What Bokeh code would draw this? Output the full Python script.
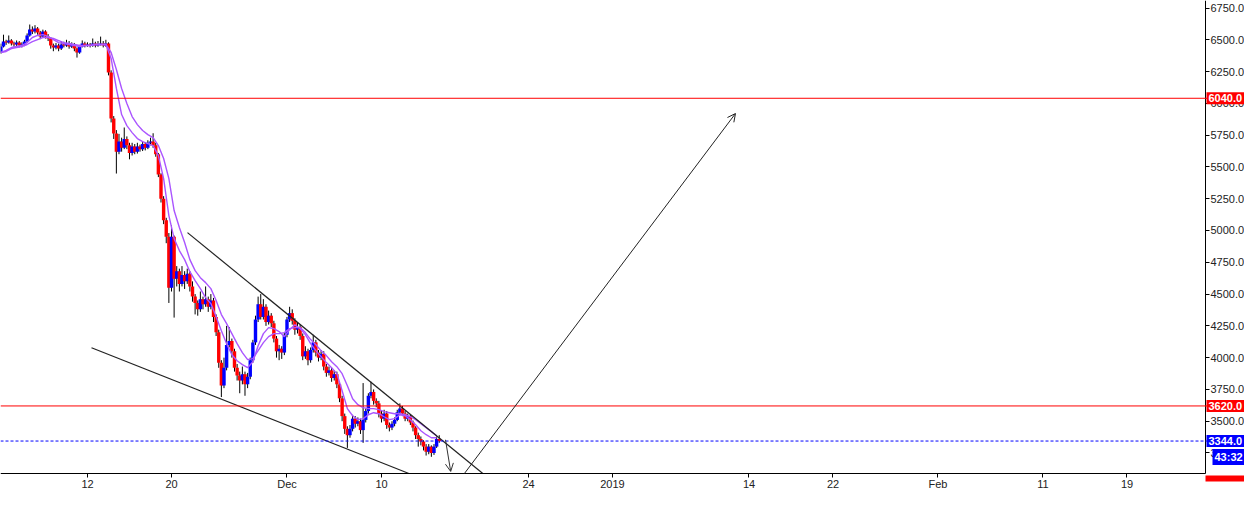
import pandas as pd
from bokeh.plotting import figure
from bokeh.models import (Range1d, FixedTicker, NumeralTickFormatter, Span, Label,
                          Arrow, OpenHead, ColumnDataSource, LinearAxis, DatetimeAxis)
from bokeh.embed import file_html
from bokeh.resources import INLINE

# ---------------- data ----------------
start_time = "2018-11-03 18:00"   # first 6h candle
first_open = 6400

close = [
    6447, 6486, 6478, 6494, 6471, 6463, 6478, 6455, 6463, 6486,
    6534, 6581, 6565, 6589, 6557, 6526, 6565, 6526, 6510, 6455,
    6439, 6455, 6431, 6463, 6455, 6471, 6447, 6463, 6431, 6400,
    6447, 6471, 6455, 6463, 6455, 6471, 6455, 6463, 6471, 6455,
    6471, 6242, 5880, 5762, 5620, 5700, 5650, 5720, 5670, 5610,
    5660, 5620, 5660, 5640, 5680, 5650, 5690, 5700, 5670, 5600,
    5440, 5250, 5080, 4950, 4550, 4950, 4620, 4680, 4580, 4650,
    4600, 4660, 4560, 4480, 4430, 4380, 4460, 4420, 4460, 4400,
    4450, 4320, 4200, 3960, 3780, 3920, 4100, 4130, 4050, 3920,
    3860, 3820, 3870, 3790, 3850, 3980, 4120, 4300, 4420, 4320,
    4400, 4280, 4330, 4270, 4150, 4050, 4070, 4040, 4180, 4300,
    4350, 4290, 4220, 4240, 4170, 4010, 4050, 3980, 4060, 4120,
    4040, 4000, 4030, 3930, 3880, 3900, 3840, 3870, 3790, 3680,
    3540, 3440, 3390, 3440, 3520, 3480, 3500, 3430, 3510, 3580,
    3700, 3730, 3660, 3640, 3560, 3520, 3560, 3470, 3450, 3480,
    3510, 3570, 3600, 3560, 3520, 3540, 3490, 3450, 3390, 3360,
    3340, 3300, 3260, 3300, 3250, 3300, 3360, 3344,
]
high = [
    6470, 6540, 6500, 6534, 6505, 6485, 6495, 6490, 6480, 6500,
    6550, 6620, 6605, 6615, 6600, 6570, 6580, 6575, 6545, 6520,
    6470, 6475, 6470, 6490, 6485, 6500, 6490, 6480, 6475, 6440,
    6460, 6495, 6485, 6480, 6475, 6510, 6485, 6490, 6525, 6490,
    6500, 6480, 6260, 5900, 5790, 5760, 5730, 5810, 5740, 5690,
    5690, 5680, 5690, 5675, 5700, 5695, 5710, 5730, 5765, 5690,
    5610, 5450, 5270, 5100, 4980, 5040, 4960, 4720, 4700, 4720,
    4680, 4700, 4680, 4600, 4500, 4450, 4520, 4480, 4560, 4480,
    4500, 4470, 4340, 4220, 3980, 4000, 4250, 4240, 4150, 4070,
    3950, 3890, 3930, 3890, 3880, 4000, 4140, 4330, 4480, 4500,
    4460, 4420, 4370, 4350, 4290, 4170, 4100, 4090, 4200, 4320,
    4400, 4380, 4310, 4280, 4260, 4190, 4090, 4070, 4080, 4180,
    4140, 4060, 4060, 4050, 3950, 3930, 3920, 3900, 3890, 3810,
    3700, 3560, 3460, 3470, 3550, 3540, 3530, 3520, 3800, 3600,
    3720, 3810, 3750, 3680, 3660, 3580, 3590, 3580, 3490, 3500,
    3530, 3590, 3640, 3620, 3580, 3560, 3555, 3505, 3460, 3410,
    3380, 3350, 3320, 3320, 3310, 3320, 3380, 3390,
]
low = [
    6390, 6440, 6460, 6470, 6455, 6445, 6450, 6440, 6440, 6450,
    6475, 6525, 6545, 6550, 6540, 6505, 6515, 6510, 6490, 6430,
    6410, 6425, 6410, 6420, 6440, 6445, 6430, 6435, 6410, 6360,
    6390, 6440, 6440, 6445, 6440, 6445, 6440, 6445, 6455, 6440,
    6445, 6220, 5850, 5720, 5448, 5600, 5620, 5640, 5640, 5560,
    5590, 5600, 5605, 5620, 5625, 5630, 5640, 5670, 5650, 5580,
    5420, 5220, 5050, 4900, 4430, 4520, 4315, 4560, 4520, 4560,
    4540, 4580, 4520, 4440, 4340, 4330, 4360, 4380, 4400, 4360,
    4380, 4280, 4170, 3920, 3690, 3760, 3900, 4080, 4000, 3890,
    3820, 3720, 3790, 3700, 3760, 3830, 3960, 4100, 4280, 4300,
    4300, 4250, 4260, 4240, 4120, 4000, 3980, 3990, 4020, 4160,
    4280, 4260, 4180, 4190, 4140, 3980, 3990, 3940, 3960, 4040,
    4010, 3970, 3980, 3900, 3850, 3860, 3810, 3820, 3760, 3650,
    3500, 3400, 3290, 3370, 3420, 3450, 3460, 3400, 3330, 3490,
    3560, 3680, 3630, 3610, 3530, 3490, 3500, 3440, 3420, 3430,
    3460, 3500, 3550, 3540, 3500, 3500, 3470, 3420, 3360, 3300,
    3310, 3270, 3230, 3240, 3220, 3235, 3290, 3330,
]

# two moving-average lines, read every second candle
ma_fast = [
    6400, 6416, 6439, 6447, 6455, 6478, 6518, 6534, 6541, 6526,
    6502, 6478, 6471, 6463, 6455, 6447, 6455, 6455, 6463, 6463,
    6463, 6353, 6117, 5912, 5825, 5770, 5723, 5699, 5684, 5668,
    5589, 5408, 5117, 4936, 4842, 4771, 4676, 4606, 4543, 4472,
    4425, 4322, 4212, 4110, 4023, 3976, 3945, 3921, 3968, 4094,
    4189, 4236, 4228, 4205, 4165, 4220, 4259, 4228, 4181, 4110,
    4055, 4008, 3961, 3921, 3874, 3740, 3599, 3543, 3512, 3520,
    3551, 3567, 3559, 3535, 3512, 3520, 3551, 3543, 3512, 3473,
    3425, 3394, 3370, 3370,
]
ma_slow = [
    6400, 6408, 6431, 6439, 6447, 6463, 6486, 6502, 6518, 6518,
    6510, 6494, 6478, 6471, 6463, 6455, 6455, 6455, 6463, 6463,
    6463, 6400, 6266, 6117, 5999, 5896, 5833, 5786, 5754, 5731,
    5668, 5566, 5408, 5157, 5023, 4905, 4771, 4684, 4629, 4590,
    4543, 4449, 4339, 4268, 4189, 4110, 4039, 3984, 3992, 4055,
    4118, 4165, 4189, 4189, 4197, 4228, 4236, 4236, 4197, 4142,
    4102, 4055, 4016, 3968, 3929, 3874, 3779, 3677, 3630, 3607,
    3599, 3599, 3591, 3575, 3567, 3559, 3559, 3551, 3535, 3512,
    3481, 3449, 3418, 3386,
]

x_tick_dates = ["2018-11-12", "2018-11-20", "2018-12-01", "2018-12-10", "2018-12-24",
                "2019-01-01", "2019-01-14", "2019-01-22", "2019-02-01", "2019-02-11",
                "2019-02-19"]
x_tick_labels = ["12", "20", "Dec", "10", "24", "2019", "14", "22", "Feb", "11", "19"]
y_ticks = [3250, 3500, 3750, 4000, 4250, 4500, 4750, 5000, 5250, 5500, 5750,
           6000, 6250, 6500, 6750]

red_levels = [6040, 3620]
last_price = 3344
countdown = "43:32"
countdown_price = 3219
# tag of a level below the view: only its top edge shows above the time scale
lower_tag_top = 3073
lower_tag_cut = 3026

upper_trend_dates = ["2018-11-21 12:34", "2018-12-19 15:36"]
upper_trend_prices = [4983, 3089]
lower_trend_dates = ["2018-11-12 09:09", "2018-12-12 14:38"]
lower_trend_prices = [4078, 3089]
down_arrow_dates = ["2018-12-16 02:17", "2018-12-16 14:10"]
down_arrow_prices = [3354, 3105]
up_arrow_dates = ["2018-12-17 21:36", "2019-01-12 17:05"]
up_arrow_prices = [3089, 5920]

x_view = ["2018-11-03 17:09", "2019-03-02 04:35"]
y_view = [2955, 6809]
price_axis_at = "2019-02-26 11:26"   # where the price scale sits
time_axis_at = 3089                  # where the time scale sits


def ms(d):
    return pd.Timestamp(d).value / 1e6


# ---------------- build ----------------
times = pd.date_range(start_time, periods=len(close), freq="6h")
t_ms = [ms(t) for t in times]
opens = [first_open] + close[:-1]
tops = [max(o, c) for o, c in zip(opens, close)]
bots = [min(o, c) for o, c in zip(opens, close)]
cols = ["#0000ff" if c >= o else "#ff0000" for o, c in zip(opens, close)]
src = ColumnDataSource(dict(t=t_ms, h=high, l=low, top=tops, bot=bots, col=cols))

x0, x1 = ms(x_view[0]), ms(x_view[1])
ax_x = ms(price_axis_at)
p = figure(width=1244, height=490, x_axis_location=None, y_axis_location=None,
           x_range=Range1d(x0, x1), y_range=Range1d(y_view[0], y_view[1]),
           output_backend="svg", toolbar_location=None)
p.min_border_left = 0
p.min_border_top = 0
p.min_border_right = 0
p.min_border_bottom = 0
p.outline_line_color = None
p.xgrid.visible = False
p.ygrid.visible = False
p.background_fill_color = "white"

FONT = "Liberation Sans"

xa = DatetimeAxis(fixed_location=time_axis_at, bounds=(x0, ax_x))
xa.ticker = FixedTicker(ticks=[ms(d) for d in x_tick_dates], minor_ticks=[])
xa.major_label_overrides = {ms(d): lab for d, lab in zip(x_tick_dates, x_tick_labels)}
xa.major_tick_out = 4
xa.major_tick_in = 0
xa.minor_tick_out = 0
xa.major_label_standoff = 1
xa.major_label_text_font = FONT
xa.major_label_text_font_size = "11px"
xa.major_label_text_color = "#222222"
xa.axis_line_color = "#000000"
xa.major_tick_line_color = "#000000"
p.add_layout(xa, "below")

ya = LinearAxis(fixed_location=ax_x, bounds=(time_axis_at, y_view[1]))
ya.ticker = FixedTicker(ticks=y_ticks, minor_ticks=[])
ya.formatter = NumeralTickFormatter(format="0.0")
ya.major_tick_out = 4
ya.major_tick_in = 0
ya.minor_tick_out = 0
ya.major_label_standoff = 1
ya.major_label_text_font = FONT
ya.major_label_text_font_size = "11px"
ya.major_label_text_color = "#222222"
ya.axis_line_color = "#000000"
ya.major_tick_line_color = "#000000"
p.add_layout(ya, "right")

# horizontal levels
for lv in red_levels:
    p.add_layout(Span(location=lv, dimension="width", line_color="#ff0000", line_width=1))
p.add_layout(Span(location=last_price, dimension="width", line_color="#0000ff",
                  line_width=1, line_dash="3 2"))

# candles
bar_w = 6 * 3600 * 1000 * 1.3
p.segment(x0="t", y0="l", x1="t", y1="h", line_color="#000000", line_width=1, source=src)
p.vbar(x="t", width=bar_w, top="top", bottom="bot", fill_color="col", line_color=None,
       source=src)

# moving averages
ma_t = t_ms[::2][:len(ma_fast)]
p.line(ma_t, ma_slow, line_color="#aa55ff", line_width=1.4)
p.line(ma_t, ma_fast, line_color="#aa55ff", line_width=1.4)

# trend lines
p.line([ms(d) for d in upper_trend_dates], upper_trend_prices, line_color="#222222", line_width=1.2)
p.line([ms(d) for d in lower_trend_dates], lower_trend_prices, line_color="#222222", line_width=1.2)

p.add_layout(Arrow(end=OpenHead(size=8, line_color="#333333", line_width=1),
                   x_start=ms(down_arrow_dates[0]), y_start=down_arrow_prices[0],
                   x_end=ms(down_arrow_dates[1]), y_end=down_arrow_prices[1],
                   line_color="#333333", line_width=1))
p.add_layout(Arrow(end=OpenHead(size=8, line_color="#222222", line_width=1),
                   x_start=ms(up_arrow_dates[0]), y_start=up_arrow_prices[0],
                   x_end=ms(up_arrow_dates[1]), y_end=up_arrow_prices[1],
                   line_color="#222222", line_width=1))

# top edge of the clipped lower price tag
p.quad(left=[ax_x], right=[x1], top=[lower_tag_top], bottom=[lower_tag_cut],
       fill_color="#ff0000", line_color=None)


# price tags on the price scale
def tag(text, price, bg, fg="white", x_off=1):
    lab = Label(x=ax_x, y=price, text=text, x_offset=x_off, text_align="left",
                text_baseline="middle", text_font=FONT, text_font_size="11px",
                text_font_style="bold", text_color=fg, background_fill_color=bg,
                background_fill_alpha=1.0, padding=2)
    p.add_layout(lab)


for lv in red_levels:
    tag("%.1f" % lv, lv, "#ff0000")
tag("%.1f" % last_price, last_price, "#0000ff")
tag(countdown, countdown_price, "#0000ff", x_off=7)

open("out.html", "w").write(file_html(p, INLINE))
